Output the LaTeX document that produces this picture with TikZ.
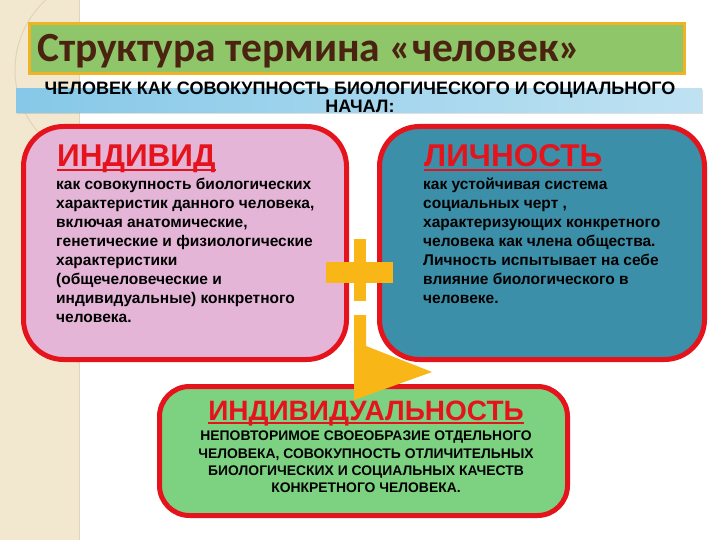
\documentclass[tikz,border=0pt]{standalone}
\usepackage{fontspec}
\setmainfont{Liberation Sans}
\newfontfamily\titlefont{Carlito}
\usetikzlibrary{shadows}
\definecolor{beige}{HTML}{F2E8CF}
\definecolor{beigeline}{HTML}{E2D5B5}
\definecolor{titlegreen}{HTML}{8FC66A}
\definecolor{titlegold}{HTML}{F0B323}
\definecolor{titlebrown}{HTML}{4A2410}
\definecolor{bannerA}{HTML}{86C8E8}
\definecolor{bannerB}{HTML}{BFE2F2}
\definecolor{boxred}{HTML}{E5131B}
\definecolor{pinkf}{HTML}{E5B5D8}
\definecolor{tealf}{HTML}{3C8FA8}
\definecolor{greenf}{HTML}{7DD282}
\definecolor{signyellow}{HTML}{F9B717}
\tikzset{
  bigbox/.style={draw=boxred, line width=5pt, rounded corners=40pt, anchor=north west, inner sep=0pt},
  headword/.style={text=boxred, font=\bfseries\fontsize{31.5}{31.5}\selectfont, inner sep=0pt},
  uline/.style={draw=boxred, line width=2.6pt},
  bodytext/.style={font=\bfseries\fontsize{15.5}{19}\selectfont, align=left, inner sep=0pt, anchor=north west},
}
\begin{document}
\begin{tikzpicture}[x=1pt,y=-1pt]
\useasboundingbox (0,0) rectangle (720,540);
\fill[white] (0,0) rectangle (720,540);
% left decorative strip
\fill[beige] (0,0) rectangle (79,540);
\draw[beigeline, line width=1pt] (79,0) -- (79,540);
\begin{scope}
  \clip (0,0) rectangle (79,540);
  \draw[beigeline, line width=1pt] (110,70) circle (95);
  \draw[beigeline, line width=1pt] (120,300) circle (75);
\end{scope}
% title
\node[draw=titlegold, fill=titlegreen, line width=3pt, minimum width=655pt, minimum height=50pt, anchor=north west, inner sep=0pt] (titlebox) at (28,22) {};
\node[anchor=base west, text=titlebrown, font=\titlefont\bfseries\fontsize{41.5}{41.5}\selectfont, inner sep=0pt] (title) at (37,62) {Структура термина «человек»};
% banner
\node[left color=bannerA, right color=bannerB, minimum width=686pt, minimum height=24pt, anchor=north west, inner sep=0pt, drop shadow={opacity=0.25, shadow xshift=1pt, shadow yshift=-1.5pt}] (banner) at (16,88) {};
\node[anchor=north, align=center, font=\bfseries\fontsize{18}{18}\selectfont, inner sep=0pt] (bannertext) at (360,82) {ЧЕЛОВЕК КАК СОВОКУПНОСТЬ БИОЛОГИЧЕСКОГО И СОЦИАЛЬНОГО\\НАЧАЛ:};
% boxes
\node[bigbox, fill=pinkf, minimum width=323pt, minimum height=233pt] (ind) at (21,124) {};
\node[bigbox, fill=tealf, minimum width=325pt, minimum height=233pt] (lich) at (377,124) {};
\node[bigbox, fill=greenf, minimum width=408pt, minimum height=129pt, rounded corners=30pt] (indiv) at (157,384) {};
% left box text
\node[headword, anchor=base west] (indhead) at (57,167) {ИНДИВИД};
\draw[uline] ([yshift=-3pt]indhead.base west) -- ([yshift=-3pt]indhead.base east);
\node[bodytext] (indbody) at (56,178) {как совокупность биологических\\характеристик данного человека,\\включая анатомические,\\генетические и физиологические\\характеристики\\(общечеловеческие и\\индивидуальные) конкретного\\человека.};
% right box text
\node[headword, anchor=base west] (lichhead) at (424,167) {ЛИЧНОСТЬ};
\draw[uline] ([yshift=-3pt]lichhead.base west) -- ([yshift=-3pt]lichhead.base east);
\node[bodytext] (lichbody) at (423,178) {как устойчивая система\\социальных черт ,\\характеризующих конкретного\\человека как члена общества.\\Личность испытывает на себе\\влияние биологического в\\человеке.};
% bottom box text
\node[headword, anchor=base, font=\bfseries\fontsize{28}{28}\selectfont] (indivhead) at (366,420) {ИНДИВИДУАЛЬНОСТЬ};
\draw[uline] ([yshift=-3pt]indivhead.base west) -- ([yshift=-3pt]indivhead.base east);
\node[font=\bfseries\fontsize{13.9}{17.3}\selectfont, align=center, inner sep=0pt, anchor=north] (indivbody) at (366,431) {НЕПОВТОРИМОЕ СВОЕОБРАЗИЕ ОТДЕЛЬНОГО\\ЧЕЛОВЕКА, СОВОКУПНОСТЬ ОТЛИЧИТЕЛЬНЫХ\\БИОЛОГИЧЕСКИХ И СОЦИАЛЬНЫХ КАЧЕСТВ\\КОНКРЕТНОГО ЧЕЛОВЕКА.};
% plus sign
\fill[signyellow] (354,239) rectangle (366,301);
\fill[signyellow] (326,262) rectangle (393,283);
% arrow
\fill[signyellow] (354,315) -- (366,315) -- (366,346) -- (432,372) -- (354,400) -- cycle;
\end{tikzpicture}
\end{document}
